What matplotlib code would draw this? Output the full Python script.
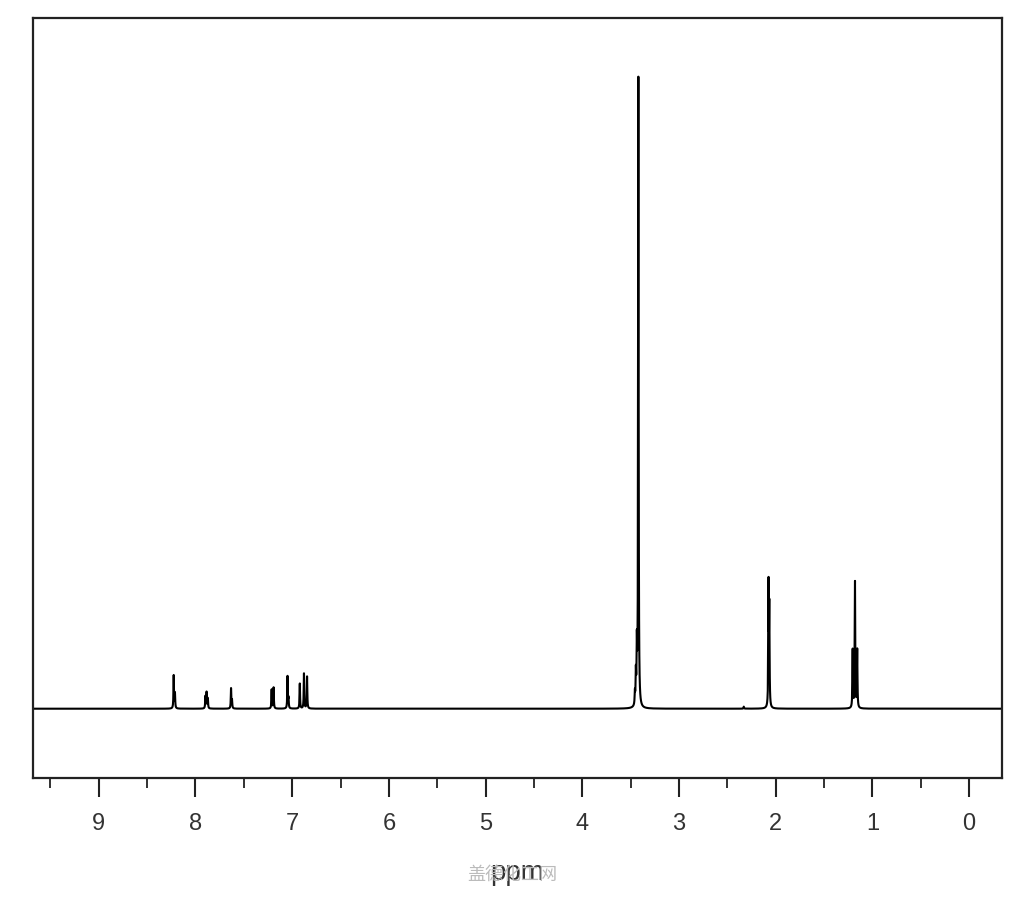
import matplotlib
matplotlib.use("Agg")
import matplotlib.pyplot as plt
from matplotlib.ticker import MultipleLocator
import numpy as np

# peak list: shift (ppm), height (baseline = 0), half width (ppm)
shifts = [8.225, 8.212, 7.897, 7.885, 7.872, 7.632, 7.622,
          7.212, 7.192, 7.048, 7.038, 6.921, 6.878, 6.846,
          3.420, 3.436, 3.446, 3.456, 2.330, 2.074, 2.066,
          1.204, 1.180, 1.157]
heights = [33, 15, 12, 16, 10, 20, 8,
           19, 21, 32, 10, 25, 35, 32,
           630, 55, 30, 12, 2, 120, 95,
           58, 126, 58]
widths = [0.003] * len(shifts)

xmin, xmax = -0.34, 9.68
ylo, yhi = -69.3, 690.7

ppm = np.linspace(xmin, xmax, 60000)
spec = np.zeros_like(ppm)
for s, h, w in zip(shifts, heights, widths):
    spec += h * w**2 / ((ppm - s)**2 + w**2)

fig = plt.figure(figsize=(10.24, 9), dpi=100)
ax = fig.add_axes([33/1024, 1 - 778/900, 969/1024, 760/900])
ax.plot(ppm, spec, color='black', lw=1.5)

ax.set_xlim(xmax, xmin)
ax.set_ylim(ylo, yhi)
ax.xaxis.set_major_locator(MultipleLocator(1))
ax.xaxis.set_minor_locator(MultipleLocator(0.5))
ax.tick_params(axis='x', which='major', direction='out', length=14, width=1.5,
               color='#222222', labelsize=17, labelcolor='#333333', pad=11)
ax.tick_params(axis='x', which='minor', direction='out', length=7, width=1.3, color='#222222')
ax.set_yticks([])
for sp in ax.spines.values():
    sp.set_linewidth(1.6)
    sp.set_color('#222222')
for lab in ax.get_xticklabels():
    lab.set_family('Liberation Sans')

ax.set_xlabel('ppm', fontsize=20, family='Liberation Sans', color='#333333', labelpad=18)
fig.text(512/1024, 1 - 875/900, '盖德化工网', fontsize=13, color='#bbbbbb',
         family=['Noto Sans CJK SC', 'DejaVu Sans'], ha='center', va='center')

fig.savefig('out.png', dpi=100, facecolor='white')
